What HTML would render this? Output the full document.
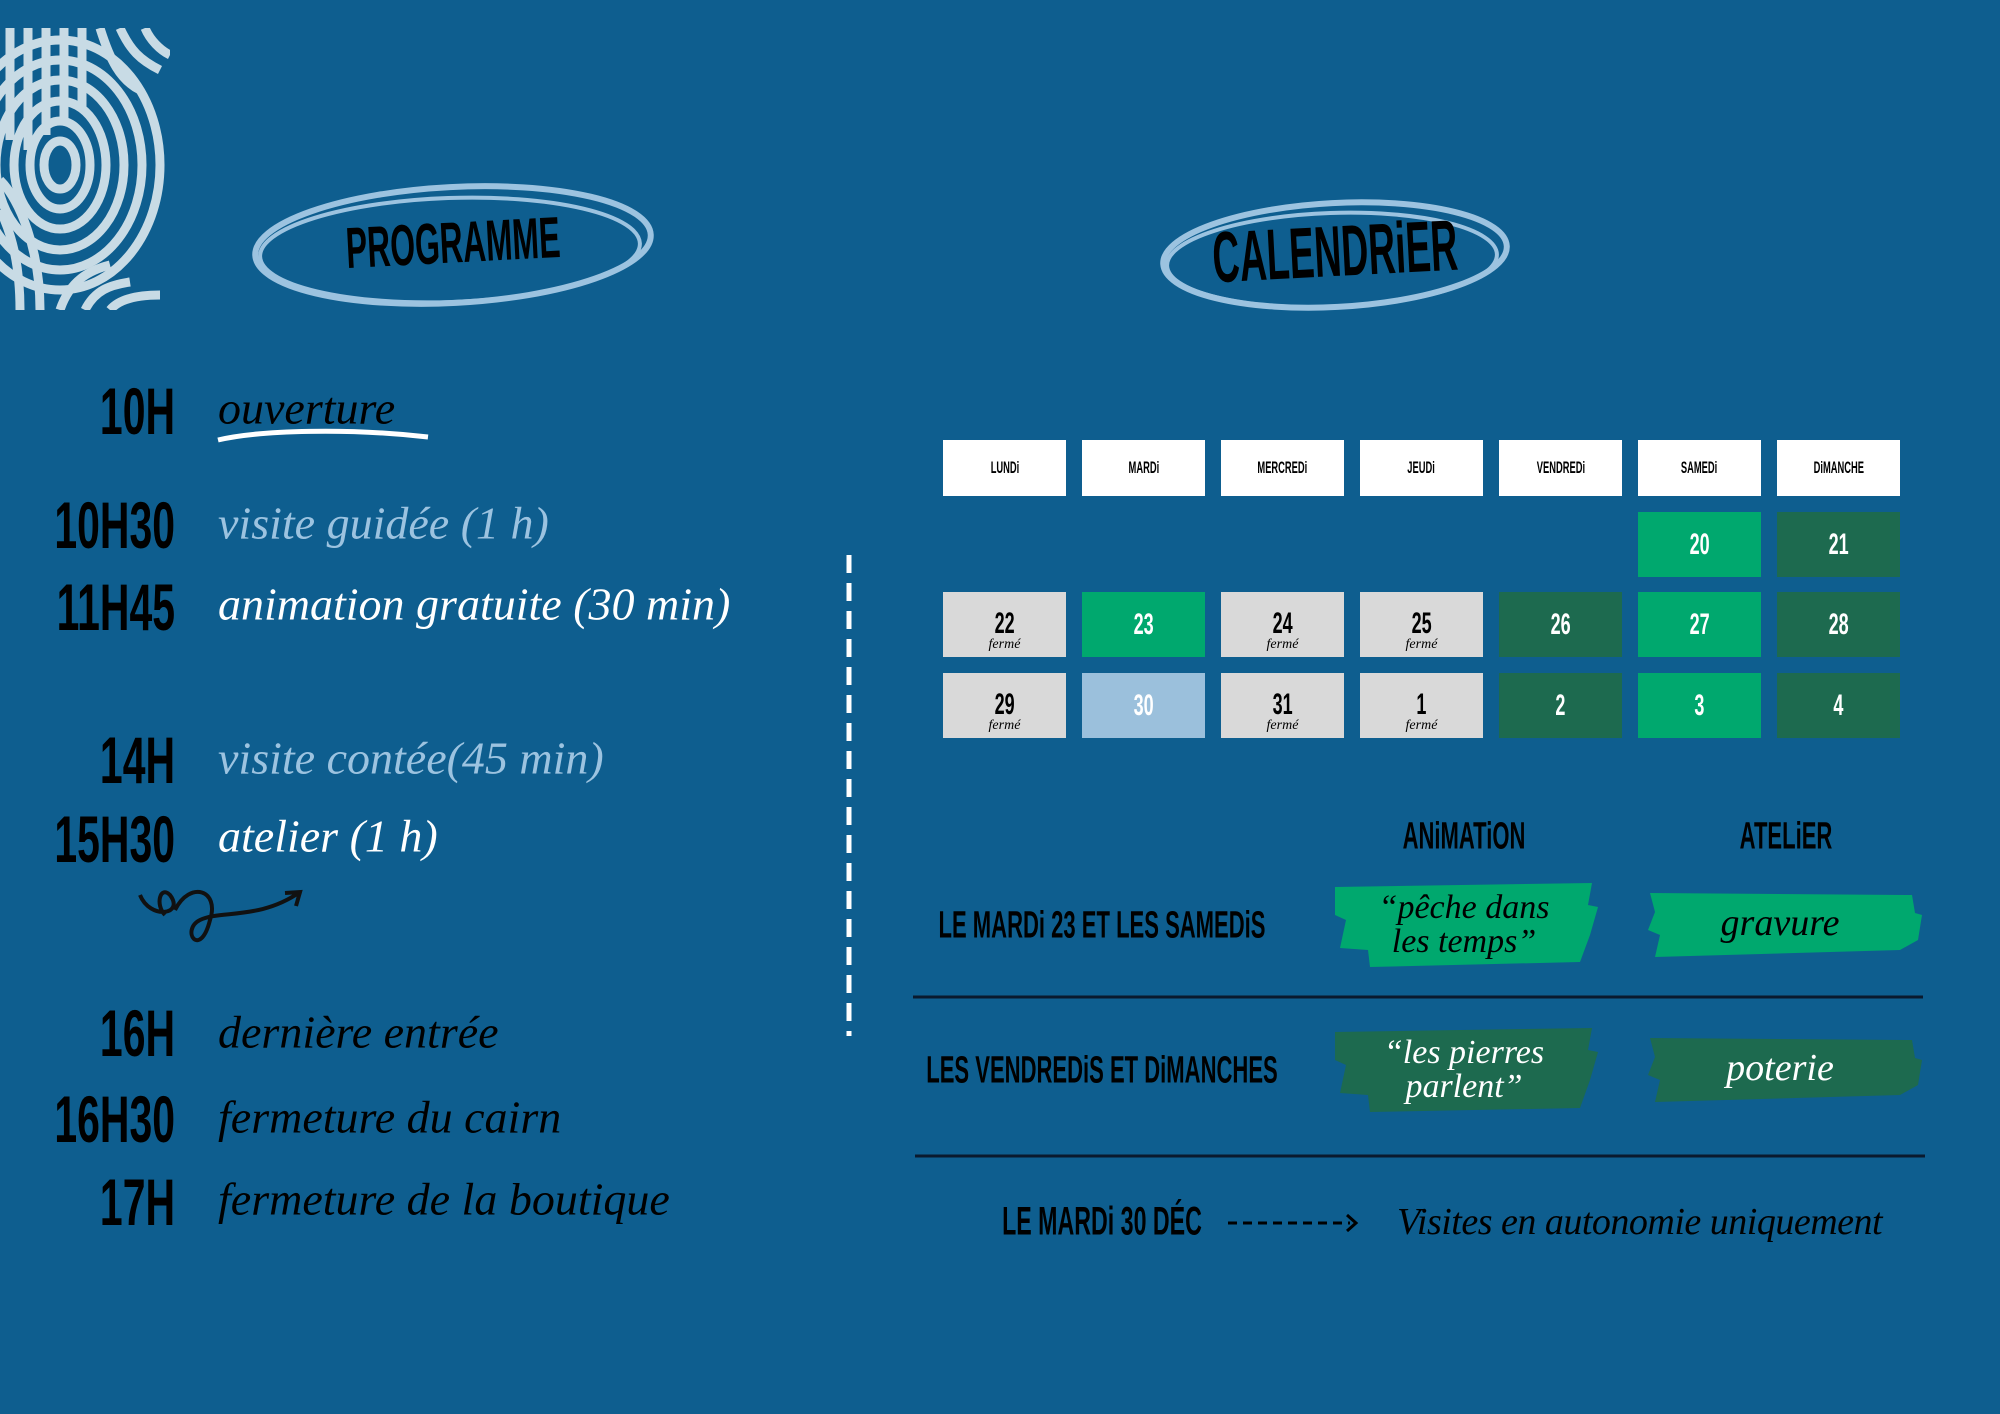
<!DOCTYPE html>
<html><head><meta charset="utf-8"><style>
html,body{margin:0;padding:0}
body{width:2000px;height:1414px;background:#0e5e8f;position:relative;overflow:hidden;font-family:"Liberation Sans",sans-serif}
.a{position:absolute;white-space:nowrap}
.c{font-weight:bold;color:#000;transform:translate(-50%,-50%) scaleX(.58);}
.t{font-weight:bold;color:#000;font-size:66px;transform-origin:100% 50%;transform:translate(-100%,-50%) scaleX(.62);}
.s{font-family:"Liberation Serif",serif;font-style:italic;font-size:46px;transform:translateY(-50%)}
.cell{position:absolute;width:123px;display:flex;flex-direction:column;align-items:center;justify-content:center}
.hd{height:56px;top:440px;background:#fff}
.hd span{font-weight:bold;font-size:17px;transform:scaleX(.55);display:inline-block}
.n{font-weight:bold;font-size:30px;transform:scaleX(.6);display:inline-block;line-height:30px}
.f{font-family:"Liberation Serif",serif;font-style:italic;font-size:14px;line-height:12px}
.g{background:#d9d9d9;color:#000;padding-top:10px;box-sizing:border-box}.G{background:#00a86e;color:#fff}.D{background:#1d6a4f;color:#fff}.L{background:#9bc0dc;color:#fff}
</style></head><body>
<svg class="a" style="left:0;top:0" width="2000" height="1414">
 <defs><clipPath id="cl"><rect x="0" y="28" width="170" height="282"/></clipPath></defs>
 <g clip-path="url(#cl)" fill="none" stroke="#c8dbe5" stroke-width="9">
  <path d="M10 28 V140 M28 28 V150 M46 28 V135 M64 28 V120 M82 28 V110"/>
  <path d="M100 28 C110 60 120 80 140 90 M120 28 C130 50 140 60 160 70 M145 28 C150 40 160 50 170 55"/>
  <g transform="translate(60,165)">
   <ellipse cx="0" cy="0" rx="100" ry="125"/><ellipse cx="0" cy="0" rx="82" ry="105"/><ellipse cx="0" cy="0" rx="64" ry="85"/>
   <ellipse cx="0" cy="0" rx="46" ry="64"/><ellipse cx="0" cy="0" rx="30" ry="44"/><ellipse cx="0" cy="0" rx="16" ry="24"/>
  </g>
  <path d="M0 180 C20 200 40 250 40 310 M0 210 C10 230 20 260 20 310"/>
  <path d="M60 310 C70 280 90 270 110 265 M85 310 C95 290 110 285 130 282 M110 310 C120 298 140 295 160 295"/>
 </g>
 <g fill="none" stroke="#9cc3e0" stroke-width="6">
  <ellipse cx="453" cy="245" rx="198" ry="58" transform="rotate(-3 453 245)"/>
  <ellipse cx="450" cy="250" rx="190" ry="52" transform="rotate(-2 450 250)" stroke-width="4"/>
  <ellipse cx="1335" cy="255" rx="172" ry="52" transform="rotate(-3 1335 255)"/>
  <ellipse cx="1332" cy="260" rx="165" ry="47" transform="rotate(-2 1332 260)" stroke-width="4"/>
 </g>
 <path d="M218 440 C260 430 350 428 428 437" stroke="#fff" stroke-width="5" fill="none"/>
 <line x1="849" y1="555" x2="849" y2="1036" stroke="#fff" stroke-width="5" stroke-dasharray="18 10"/>
 <path d="M140 895 C150 920 185 915 170 895 C160 885 155 905 165 915 M175 910 C190 880 220 890 210 920 C200 960 180 930 200 920 C220 910 260 920 300 892 M285 893 L300 892 L296 906" stroke="#111" stroke-width="4" fill="none"/>
 <line x1="913" y1="997" x2="1923" y2="997" stroke="#0a1a2e" stroke-width="3"/>
 <line x1="915" y1="1156" x2="1925" y2="1156" stroke="#0a1a2e" stroke-width="3"/>
 <line x1="1228" y1="1223" x2="1350" y2="1223" stroke="#000" stroke-width="3" stroke-dasharray="9 6"/>
 <path d="M1347 1215 L1356 1223 L1347 1231" stroke="#000" stroke-width="3" fill="none"/>
 <path d="M1335 887 L1592 883 L1588 905 L1598 907 L1590 935 L1580 962 L1370 967 L1368 950 L1340 948 L1346 920 L1335 915Z" fill="#00a86e"/>
 <path d="M1650 893 L1912 895 L1915 913 L1922 915 L1918 940 L1900 950 L1655 957 L1660 935 L1648 930 L1655 912Z" fill="#00a86e"/>
 <path d="M1335 1032 L1592 1028 L1588 1050 L1598 1052 L1590 1080 L1580 1108 L1370 1112 L1368 1095 L1340 1093 L1346 1065 L1335 1060Z" fill="#1d6a4f"/>
 <path d="M1650 1038 L1912 1040 L1915 1058 L1922 1060 L1918 1085 L1900 1095 L1655 1102 L1660 1080 L1648 1075 L1655 1057Z" fill="#1d6a4f"/>
</svg>

<div class="a c" style="left:453px;top:243px;font-size:58px;transform:translate(-50%,-50%) rotate(-3deg) scaleX(.55)">PROGRAMME</div>
<div class="a c" style="left:1335px;top:252px;font-size:72px;transform:translate(-50%,-50%) rotate(-3deg) scaleX(.52)">CALENDRiER</div>

<div class="a t" style="left:175px;top:411px">10H</div>
<div class="a t" style="left:175px;top:525px">10H30</div>
<div class="a t" style="left:175px;top:607px">11H45</div>
<div class="a t" style="left:175px;top:760px">14H</div>
<div class="a t" style="left:175px;top:839px">15H30</div>
<div class="a t" style="left:175px;top:1033px">16H</div>
<div class="a t" style="left:175px;top:1119px">16H30</div>
<div class="a t" style="left:175px;top:1202px">17H</div>

<div class="a s" style="left:218px;top:408px;color:#000">ouverture</div>
<div class="a s" style="left:218px;top:523px;color:#9cc3e0">visite guidée (1 h)</div>
<div class="a s" style="left:218px;top:604px;color:#fff">animation gratuite (30 min)</div>
<div class="a s" style="left:218px;top:758px;color:#9cc3e0">visite contée(45 min)</div>
<div class="a s" style="left:218px;top:836px;color:#fff">atelier (1 h)</div>
<div class="a s" style="left:218px;top:1032px;color:#000">dernière entrée</div>
<div class="a s" style="left:218px;top:1117px;color:#000">fermeture du cairn</div>
<div class="a s" style="left:218px;top:1199px;color:#000">fermeture de la boutique</div>

<div class="cell hd" style="left:943px"><span>LUNDi</span></div>
<div class="cell hd" style="left:1082px"><span>MARDi</span></div>
<div class="cell hd" style="left:1221px"><span>MERCREDi</span></div>
<div class="cell hd" style="left:1360px"><span>JEUDi</span></div>
<div class="cell hd" style="left:1499px"><span>VENDREDi</span></div>
<div class="cell hd" style="left:1638px"><span>SAMEDi</span></div>
<div class="cell hd" style="left:1777px"><span>DiMANCHE</span></div>

<div class="cell G" style="left:1638px;top:512px;height:65px"><span class="n">20</span></div>
<div class="cell D" style="left:1777px;top:512px;height:65px"><span class="n">21</span></div>

<div class="cell g" style="left:943px;top:592px;height:65px"><span class="n">22</span><span class="f">fermé</span></div>
<div class="cell G" style="left:1082px;top:592px;height:65px"><span class="n">23</span></div>
<div class="cell g" style="left:1221px;top:592px;height:65px"><span class="n">24</span><span class="f">fermé</span></div>
<div class="cell g" style="left:1360px;top:592px;height:65px"><span class="n">25</span><span class="f">fermé</span></div>
<div class="cell D" style="left:1499px;top:592px;height:65px"><span class="n">26</span></div>
<div class="cell G" style="left:1638px;top:592px;height:65px"><span class="n">27</span></div>
<div class="cell D" style="left:1777px;top:592px;height:65px"><span class="n">28</span></div>

<div class="cell g" style="left:943px;top:673px;height:65px"><span class="n">29</span><span class="f">fermé</span></div>
<div class="cell L" style="left:1082px;top:673px;height:65px"><span class="n">30</span></div>
<div class="cell g" style="left:1221px;top:673px;height:65px"><span class="n">31</span><span class="f">fermé</span></div>
<div class="cell g" style="left:1360px;top:673px;height:65px"><span class="n">1</span><span class="f">fermé</span></div>
<div class="cell D" style="left:1499px;top:673px;height:65px"><span class="n">2</span></div>
<div class="cell G" style="left:1638px;top:673px;height:65px"><span class="n">3</span></div>
<div class="cell D" style="left:1777px;top:673px;height:65px"><span class="n">4</span></div>

<div class="a c" style="left:1464px;top:837px;font-size:38px">ANiMATiON</div>
<div class="a c" style="left:1786px;top:837px;font-size:38px">ATELiER</div>
<div class="a c" style="left:1102px;top:926px;font-size:38px">LE MARDi 23 ET LES SAMEDiS</div>
<div class="a c" style="left:1102px;top:1071px;font-size:38px">LES VENDREDiS ET DiMANCHES</div>
<div class="a c" style="left:1102px;top:1222px;font-size:40px">LE MARDi 30 DÉC</div>

<div class="a" style="left:1464px;top:925px;transform:translate(-50%,-50%);font-family:'Liberation Serif',serif;font-style:italic;font-size:34px;line-height:34px;text-align:center;color:#000">“pêche dans<br>les temps”</div>
<div class="a" style="left:1780px;top:923px;transform:translate(-50%,-50%);font-family:'Liberation Serif',serif;font-style:italic;font-size:38px;color:#000">gravure</div>
<div class="a" style="left:1464px;top:1070px;transform:translate(-50%,-50%);font-family:'Liberation Serif',serif;font-style:italic;font-size:34px;line-height:34px;text-align:center;color:#fff">“les pierres<br>parlent”</div>
<div class="a" style="left:1780px;top:1068px;transform:translate(-50%,-50%);font-family:'Liberation Serif',serif;font-style:italic;font-size:38px;color:#fff">poterie</div>
<div class="a" style="left:1397px;top:1222px;transform:translateY(-50%);font-family:'Liberation Serif',serif;font-style:italic;font-size:38px;color:#000;letter-spacing:-0.5px">Visites en autonomie uniquement</div>
</body></html>
